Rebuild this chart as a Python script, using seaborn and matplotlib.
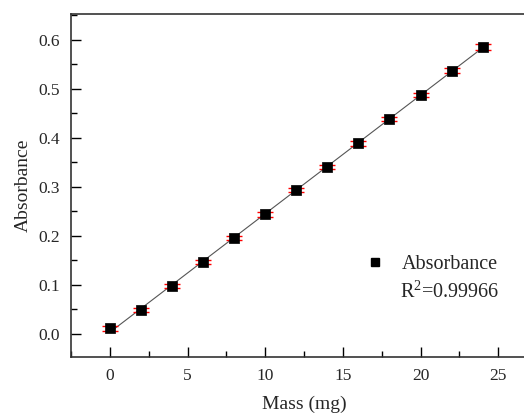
import numpy as np
import pandas as pd
import matplotlib
matplotlib.use("Agg")
import matplotlib.pyplot as plt
from matplotlib.ticker import MultipleLocator
from matplotlib.lines import Line2D
import seaborn as sns

mass = [0, 2, 4, 6, 8, 10, 12, 14, 16, 18, 20, 22, 24]
absorbance = [0.012, 0.049, 0.097, 0.146, 0.195, 0.244, 0.293, 0.341, 0.389, 0.438, 0.487, 0.536, 0.585]
errors = [0.005, 0.004, 0.004, 0.004, 0.004, 0.005, 0.004, 0.004, 0.005, 0.004, 0.004, 0.005, 0.006]
r2_text = "R$^2$=0.99966"

df = pd.DataFrame({"Mass": mass, "Absorbance": absorbance, "err": errors})

sns.set_style("white")
plt.rcParams["font.family"] = ["Liberation Serif", "DejaVu Serif"]
plt.rcParams["mathtext.fontset"] = "custom"
plt.rcParams["mathtext.rm"] = "Liberation Serif"

fig = plt.figure(figsize=(5.24, 4.16), dpi=100)
W, H = 524, 416
left, right, top, bottom = 71, 537, 14, 357
ax = fig.add_axes([left / W, 1 - bottom / H, (right - left) / W, (bottom - top) / H])

sns.regplot(data=df, x="Mass", y="Absorbance", scatter=False, ci=None, ax=ax,
            line_kws=dict(color="#555555", lw=0.8, zorder=2))
ax.errorbar(df["Mass"], df["Absorbance"], yerr=df["err"], fmt="none",
            ecolor="red", elinewidth=0.8, capsize=6, capthick=1.0, zorder=3)
sns.scatterplot(data=df, x="Mass", y="Absorbance", marker="s", s=45, color="black",
                edgecolor="black", linewidth=0.5, ax=ax, zorder=4)

ax.set_xlim(-2.5, 27.5)
ax.set_ylim(-0.047, 0.652)
ax.xaxis.set_major_locator(MultipleLocator(5))
ax.xaxis.set_minor_locator(MultipleLocator(2.5))
ax.yaxis.set_major_locator(MultipleLocator(0.1))
ax.yaxis.set_minor_locator(MultipleLocator(0.05))
ax.yaxis.set_major_formatter(matplotlib.ticker.FormatStrFormatter("%.1f"))
ax.tick_params(which="major", direction="in", length=7, width=1, labelsize=12.5, color="black",
               bottom=True, left=True, top=False, right=False, pad=8)
ax.tick_params(which="minor", direction="in", length=4, width=1, color="black",
               bottom=True, left=True, top=False, right=False)
for s in ax.spines.values():
    s.set_color("#333333")
    s.set_linewidth(1.2)

ax.set_xlabel("Mass (mg)", fontsize=14, labelpad=8)
ax.set_ylabel("Absorbance", fontsize=14, labelpad=5)

handle = Line2D([], [], marker="s", color="black", linestyle="none", markersize=6)
fig.legend([handle], ["Absorbance"], loc="center left",
           bbox_to_anchor=(364.5 / W, 1 - 264 / H),
           frameon=False, fontsize=14.5, handlelength=1.0, handletextpad=0.85,
           borderpad=0, borderaxespad=0)
ax.text(400 / W, 1 - 292 / H, r2_text, transform=fig.transFigure, fontsize=14.5,
        va="center", ha="left")

fig.savefig("out.png", dpi=100)
